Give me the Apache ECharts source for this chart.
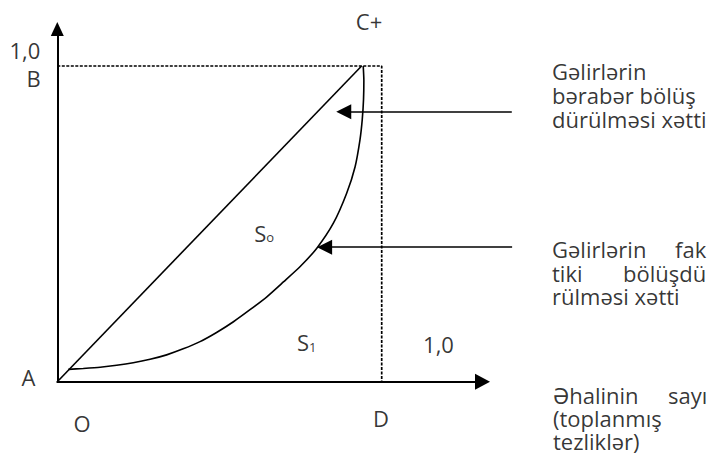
<!DOCTYPE html>
<html>
<head>
<meta charset="utf-8">
<script src="https://cdn.jsdelivr.net/npm/echarts@6/dist/echarts.min.js"></script>
<style>
html,body{margin:0;padding:0;background:#fff;}
#chart{width:712px;height:472px;}
</style>
</head>
<body>
<div id="chart"></div>
<script>
// Lorenz curve (actual income distribution), cumulative population share -> cumulative income share
const curveX = [0.034, 0.080, 0.132, 0.183, 0.234, 0.286, 0.337, 0.388, 0.440, 0.491, 0.543, 0.594, 0.646, 0.697, 0.748, 0.800, 0.851, 0.892, 0.918, 0.933, 0.940, 0.944, 0.945, 0.943];
const curveY = [0.039, 0.042, 0.046, 0.052, 0.060, 0.071, 0.085, 0.104, 0.127, 0.156, 0.190, 0.228, 0.269, 0.316, 0.364, 0.423, 0.502, 0.597, 0.681, 0.766, 0.830, 0.895, 0.955, 1.000];
// Line of equal distribution
const equalX = [0, 0.938];
const equalY = [0, 1];
// Dotted box B -> C -> D
const boxX = [0, 1, 1];
const boxY = [1, 1, 0];
// Pointer arrows [from, to]
const arrow1 = [[1.401, 0.855], [0.883, 0.855]];
const arrow2 = [[1.402, 0.426], [0.824, 0.426]];
// Point / area labels: [x, y, text, align]
const pointLabels = [
  [-0.100, 1.050, '1,0', 'center'],
  [-0.073, 0.962, 'B', 'center'],
  [0.961, 1.143, 'C+', 'center'],
  [-0.089, 0.015, 'A', 'center'],
  [0.076, -0.131, 'O', 'center'],
  [0.998, -0.115, 'D', 'center'],
  [0.607, 0.471, '{m|S}{s|o}', 'left'],
  [0.739, 0.123, '{m|S}{s|1}', 'left'],
  [1.175, 0.121, '1,0', 'center']
];
// Side notes (each line: first word, rest of line — justified lines keep words apart)
const note1Lines = [['Gəlirlərin', ''], ['bərabər bölüş', ''], ['dürülməsi xətti', '']];
const note2Lines = [['Gəlirlərin', 'fak'], ['tiki', 'bölüşdü'], ['rülməsi xətti', '']];
const note3Lines = [['Əhalinin', 'sayı'], ['(toplanmış', ''], ['tezliklər)', '']];
const noteAnchors = [[1.525, 0.908], [1.525, 0.345], [1.528, -0.115]];

const X_MAX = 1.3107, Y_MAX = 1.1172;
const FONT = '"Open Sans", "Noto Sans", sans-serif';
const FS = 22;

const chart = echarts.init(document.getElementById('chart'), null, {renderer: 'svg'});

function zip(xs, ys){ return xs.map((x, i) => [x, ys[i]]); }

// justified-line gaps (px width of the first word slot)
const slotW = [[0, 0, 0], [123, 71, 0], [115, 0, 0]];
const lineH = [24.2, 23.6, 23.4];
const noteBlocks = [note1Lines, note2Lines, note3Lines];

const baseText = {fontFamily: FONT, fontSize: FS, color: '#000'};
const rich = {
  m: Object.assign({}, baseText, {lineHeight: 21, verticalAlign: 'bottom'}),
  s: Object.assign({}, baseText, {fontSize: 13, lineHeight: 13, verticalAlign: 'bottom'})
};

const labelData = pointLabels.map(d => ({
  value: [d[0], d[1]],
  label: {show: true, position: 'inside', formatter: d[2], align: d[3], verticalAlign: 'middle',
    fontFamily: FONT, fontSize: FS, color: '#000', lineHeight: 21, rich: rich}
}));

noteBlocks.forEach((lines, bi) => {
  const r = {};
  const parts = lines.map((ln, li) => {
    const key = 'w' + li;
    const lh = lineH[bi];
    if (ln[1]) {
      r[key] = Object.assign({}, baseText, {width: slotW[bi][li], lineHeight: lh});
      r['t' + li] = Object.assign({}, baseText, {lineHeight: lh});
      return '{' + key + '|' + ln[0] + '}{t' + li + '|' + ln[1] + '}';
    }
    r['t' + li] = Object.assign({}, baseText, {lineHeight: lh});
    return '{t' + li + '|' + ln[0] + '}';
  });
  labelData.push({
    value: noteAnchors[bi],
    label: {show: true, position: 'inside', formatter: parts.join('\n'), align: 'left', verticalAlign: 'middle',
      fontFamily: FONT, fontSize: FS, color: '#000', lineHeight: lineH[bi], rich: r}
  });
});

chart.setOption({
  animation: false,
  grid: {left: 57.3, right: 229.5, top: 29, bottom: 90.3, containLabel: false},
  xAxis: {
    type: 'value', min: 0, max: X_MAX,
    splitLine: {show: false}, axisTick: {show: false}, axisLabel: {show: false},
    axisLine: {show: true, onZero: false, symbol: ['none', 'triangle'], symbolSize: [16, 15],
      lineStyle: {color: '#000', width: 2}}
  },
  yAxis: {
    type: 'value', min: 0, max: Y_MAX,
    splitLine: {show: false}, axisTick: {show: false}, axisLabel: {show: false},
    axisLine: {show: true, onZero: false, symbol: ['none', 'triangle'], symbolSize: [13, 14],
      lineStyle: {color: '#000', width: 2}}
  },
  series: [
    {
      type: 'line', data: zip(boxX, boxY), showSymbol: false, symbol: 'none', silent: true,
      lineStyle: {color: '#000', width: 1.7, type: [3, 1.5]}, clip: false
    },
    {
      type: 'line', data: zip(equalX, equalY), showSymbol: false, symbol: 'none', silent: true,
      lineStyle: {color: '#000', width: 1.6}, clip: false
    },
    {
      type: 'line', data: zip(curveX, curveY), showSymbol: false, symbol: 'none', smooth: 0.2, silent: true,
      lineStyle: {color: '#000', width: 1.6}, clip: false
    },
    {
      type: 'lines', coordinateSystem: 'cartesian2d', silent: true, clip: false,
      symbol: ['none', 'triangle'], symbolSize: 15,
      lineStyle: {color: '#000', width: 1.6, opacity: 1},
      data: [{coords: arrow1}, {coords: arrow2}]
    },
    {
      type: 'scatter', silent: true, clip: false, symbolSize: 1,
      itemStyle: {color: 'rgba(0,0,0,0)'},
      data: labelData
    }
  ]
});
</script>
</body>
</html>
